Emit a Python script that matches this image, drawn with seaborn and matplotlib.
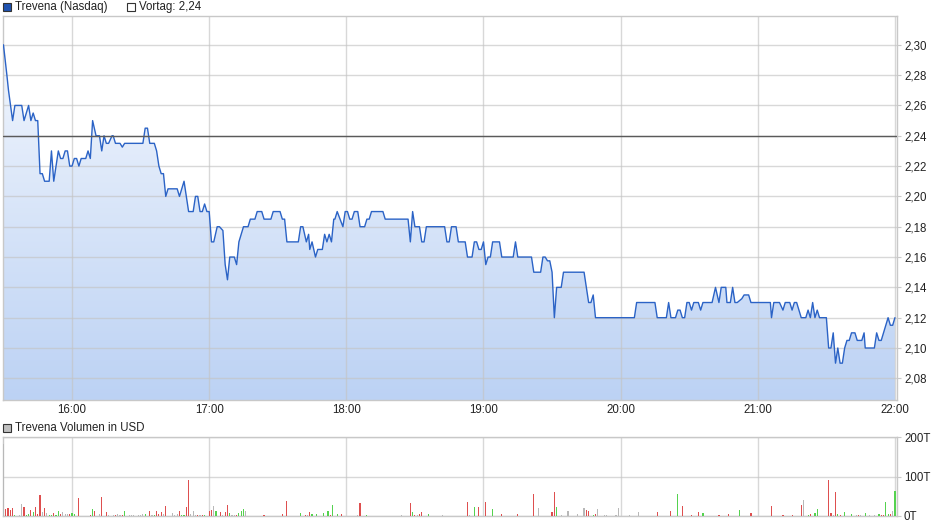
import numpy as np
import pandas as pd
import matplotlib
matplotlib.use("Agg")
import matplotlib.pyplot as plt
from matplotlib.patches import Rectangle
from matplotlib.colors import LinearSegmentedColormap
import seaborn as sns

# Trevena (Nasdaq) intraday quotes, time in minutes after 15:30
price_minute = [
    0, 1.5, 2.2, 4, 5, 8, 9, 11, 12, 13, 14, 15, 16, 17, 18, 20, 21, 22, 23, 24,
    25, 26, 27, 28, 29, 30, 31, 32, 33, 34, 36, 37, 38, 39, 40.5, 42, 43, 44, 45, 46,
    47.5, 48, 49, 51, 52, 53, 61, 62, 63, 64, 66, 67, 68, 69, 70, 71, 72, 76, 77, 79,
    81, 83, 84, 85, 86, 87, 88, 89, 90, 91, 92, 93.5, 94.5, 96, 97, 98, 99, 101, 102, 103,
    105, 107, 108, 110, 111, 113, 114, 117, 118, 121, 122, 123, 124, 129, 130, 131, 132.5, 133.5, 134, 135,
    136.5, 137.5, 139.5, 140.5, 141.5, 142.5, 143.5, 144.5, 145, 146, 148.5, 149.5, 150.5, 151.5, 152.5, 153.5, 155, 156, 158, 159,
    160, 161, 166, 167, 177, 178, 179, 180, 182, 183, 184, 185, 193, 194, 195, 196, 198, 199, 202, 203,
    205, 206, 207, 208, 209, 210, 211, 212, 213, 214, 217, 218, 223, 224, 225, 231, 232, 235, 236, 237,
    238, 239, 240, 241, 242, 244, 245, 254, 255, 256, 257, 258, 259, 276, 277, 285, 286, 290, 291, 292,
    294, 295, 296, 297, 298, 299, 300, 301, 302, 304, 305, 306, 310, 311.5, 313, 314, 316, 316.5, 318, 319,
    320, 321, 323, 324, 326, 327, 335.5, 336, 337, 339.5, 341, 342, 344, 345, 346, 347, 349, 351, 352, 353,
    354, 355, 356, 357, 360, 361, 362, 363, 364, 365, 366, 367, 368, 369, 370, 371, 372.5, 373.5, 375.5, 376.5,
    377, 381, 382, 383, 384, 385, 387, 388, 389, 390,
]
price_value = [
    2.30, 2.28, 2.27, 2.25, 2.26, 2.26, 2.25, 2.26, 2.25, 2.255, 2.25, 2.25, 2.215, 2.215, 2.21, 2.21, 2.23, 2.21, 2.22, 2.23,
    2.225, 2.225, 2.23, 2.23, 2.22, 2.22, 2.225, 2.225, 2.22, 2.225, 2.225, 2.23, 2.225, 2.25, 2.24, 2.24, 2.23, 2.24, 2.235, 2.235,
    2.24, 2.24, 2.235, 2.235, 2.2325, 2.235, 2.235, 2.245, 2.245, 2.235, 2.235, 2.23, 2.22, 2.215, 2.215, 2.20, 2.205, 2.205, 2.20, 2.21,
    2.19, 2.19, 2.20, 2.20, 2.19, 2.19, 2.195, 2.19, 2.19, 2.17, 2.17, 2.18, 2.18, 2.1775, 2.155, 2.145, 2.16, 2.16, 2.155, 2.17,
    2.18, 2.18, 2.185, 2.185, 2.19, 2.19, 2.185, 2.185, 2.19, 2.19, 2.185, 2.185, 2.17, 2.17, 2.18, 2.18, 2.17, 2.175, 2.165, 2.17,
    2.16, 2.165, 2.165, 2.175, 2.17, 2.175, 2.17, 2.185, 2.185, 2.19, 2.18, 2.19, 2.19, 2.185, 2.185, 2.19, 2.19, 2.18, 2.18, 2.185,
    2.185, 2.19, 2.19, 2.185, 2.185, 2.17, 2.19, 2.18, 2.18, 2.17, 2.17, 2.18, 2.18, 2.17, 2.17, 2.18, 2.18, 2.17, 2.17, 2.16,
    2.16, 2.17, 2.17, 2.165, 2.165, 2.17, 2.155, 2.16, 2.16, 2.17, 2.17, 2.16, 2.16, 2.17, 2.16, 2.16, 2.15, 2.15, 2.16, 2.16,
    2.1575, 2.1575, 2.15, 2.12, 2.14, 2.14, 2.15, 2.15, 2.14, 2.13, 2.13, 2.135, 2.12, 2.12, 2.13, 2.13, 2.12, 2.12, 2.13, 2.12,
    2.12, 2.125, 2.125, 2.12, 2.12, 2.13, 2.13, 2.125, 2.13, 2.13, 2.125, 2.13, 2.13, 2.14, 2.13, 2.14, 2.14, 2.13, 2.13, 2.14,
    2.13, 2.13, 2.1325, 2.135, 2.135, 2.13, 2.13, 2.12, 2.13, 2.13, 2.125, 2.13, 2.13, 2.125, 2.13, 2.13, 2.12, 2.12, 2.125, 2.12,
    2.13, 2.12, 2.125, 2.12, 2.12, 2.10, 2.10, 2.11, 2.09, 2.10, 2.09, 2.09, 2.10, 2.105, 2.105, 2.11, 2.11, 2.105, 2.105, 2.11,
    2.10, 2.10, 2.11, 2.105, 2.105, 2.11, 2.12, 2.115, 2.115, 2.12,
]
prev_close = 2.24

# Per-minute traded volume in thousand USD; direction: u = up tick, d = down tick, n = unchanged
vol_minute = [
    0, 1, 2, 3, 4, 5, 7, 8, 9, 10, 11, 12, 13, 14, 15, 16, 17, 18, 19, 20,
    21, 22, 23, 24, 25, 26, 27, 28, 29, 30, 31, 33, 34, 35, 36, 37, 38, 39, 40, 42,
    43, 44, 45, 46, 48, 49, 50, 51, 52, 53, 55, 56, 57, 59, 60, 61, 62, 64, 65, 66,
    67, 68, 69, 70, 71, 72, 73, 74, 75, 76, 77, 78, 79, 80, 81, 82, 83, 84, 85, 86,
    87, 88, 89, 90, 91, 92, 93, 95, 96, 97, 98, 99, 100, 101, 102, 103, 104, 105, 106, 108,
    114, 118, 119, 122, 124, 130, 132, 133, 134, 135, 136, 137, 140, 141, 142, 143, 144, 145, 146, 147,
    148, 149, 151, 153, 155, 156, 159, 161, 167, 170, 172, 174, 175, 177, 178, 179, 180, 181, 182, 183,
    186, 190, 192, 194, 196, 199, 203, 204, 206, 208, 209, 211, 212, 214, 218, 224, 225, 232, 234, 236,
    238, 240, 241, 242, 244, 245, 247, 251, 254, 255, 256, 258, 259, 260, 263, 264, 265, 266, 268, 269,
    274, 277, 278, 280, 286, 289, 292, 295, 297, 298, 299, 301, 302, 304, 305, 306, 312, 313, 314, 317,
    319, 320, 322, 324, 327, 333, 336, 338, 341, 342, 345, 346, 348, 349, 350, 351, 352, 353, 354, 355,
    356, 357, 358, 359, 361, 362, 363, 364, 365, 366, 368, 369, 371, 373, 374, 375, 377, 379, 380, 381,
    383, 384, 385, 386, 387, 388, 389, 390,
]
vol_thousand = [
    182, 18, 19, 15, 19, 3, 1.5, 30, 23, 2, 5, 15, 10, 23, 5, 53, 10, 20, 8, 1.5,
    3, 8, 3, 13, 5, 10, 5, 5, 5, 8, 5, 46, 1, 1, 1, 1, 2, 18, 13, 5,
    48, 1, 10, 2, 2, 2, 5, 2, 2, 13, 2, 2, 2, 2, 3, 5, 5, 13, 2, 2,
    13, 5, 10, 5, 25, 1, 1, 8, 2, 5, 13, 2, 2, 23, 92, 5, 13, 2, 2, 2,
    2, 2, 1, 13, 15, 25, 13, 10, 2, 10, 28, 8, 2, 2, 2, 8, 13, 18, 13, 1,
    3, 1, 1, 5, 38, 8, 2, 2, 10, 5, 1, 5, 8, 1, 13, 2, 28, 1, 5, 1,
    5, 1, 1, 1, 2, 33, 3, 1, 1, 1, 1, 3, 1, 1, 33, 10, 2, 2, 5, 10,
    5, 1, 2, 1, 1, 1, 36, 2, 23, 23, 1, 36, 1, 18, 5, 1, 5, 56, 20, 1,
    1, 10, 61, 23, 2, 1, 13, 5, 20, 15, 13, 2, 5, 18, 2, 2, 1, 1, 2, 20,
    2, 1, 10, 1, 10, 1, 13, 56, 25, 1, 1, 2, 1, 10, 1, 8, 1, 2, 1, 5,
    1, 1, 15, 1, 8, 1, 25, 1, 2, 1, 2, 1, 1, 28, 41, 1, 2, 5, 1, 8,
    18, 1, 1, 1, 92, 8, 2, 61, 5, 2, 10, 1, 5, 2, 2, 2, 8, 2, 1, 2,
    5, 2, 2, 36, 5, 5, 13, 63,
]
vol_dir = [
    "n", "d", "d", "d", "d", "u", "n", "n", "d", "u", "u", "d", "u", "d", "d", "d", "n", "d", "n", "u",
    "u", "d", "u", "u", "d", "n", "n", "n", "d", "u", "u", "d", "n", "n", "n", "n", "d", "u", "d", "n",
    "d", "n", "d", "n", "n", "d", "n", "n", "d", "u", "n", "n", "n", "n", "n", "n", "u", "d", "n", "u",
    "d", "d", "d", "n", "d", "u", "u", "n", "n", "n", "d", "u", "u", "d", "d", "n", "n", "n", "d", "n",
    "d", "u", "n", "d", "d", "n", "u", "d", "n", "d", "d", "u", "n", "n", "d", "u", "u", "u", "n", "u",
    "d", "u", "u", "d", "d", "u", "d", "n", "d", "u", "d", "u", "u", "d", "u", "d", "u", "n", "u", "d",
    "d", "u", "d", "n", "n", "d", "u", "u", "d", "n", "n", "n", "n", "n", "d", "u", "d", "n", "d", "d",
    "u", "n", "n", "d", "n", "d", "d", "n", "u", "d", "n", "d", "n", "u", "d", "u", "d", "d", "n", "u",
    "d", "d", "d", "u", "n", "u", "n", "n", "n", "d", "d", "u", "d", "n", "n", "n", "d", "n", "n", "n",
    "n", "u", "n", "n", "d", "n", "d", "u", "d", "u", "u", "d", "u", "d", "d", "u", "u", "d", "n", "d",
    "u", "d", "u", "u", "d", "n", "d", "n", "d", "u", "d", "n", "u", "d", "n", "n", "u", "d", "n", "u",
    "u", "n", "n", "n", "d", "d", "n", "d", "u", "d", "u", "n", "u", "n", "d", "n", "u", "n", "n", "n",
    "u", "d", "d", "u", "u", "d", "n", "u",
]

hour_ticks = [30, 90, 150, 210, 270, 330, 390]
hour_labels = ["16:00", "17:00", "18:00", "19:00", "20:00", "21:00", "22:00"]
price_ticks = [2.08, 2.10, 2.12, 2.14, 2.16, 2.18, 2.20, 2.22, 2.24, 2.26, 2.28, 2.30]
vol_ticks = [0, 100, 200]
vol_tick_labels = ["0T", "100T", "200T"]

sns.set_style("white")
plt.rcParams["font.family"] = ["Liberation Sans", "DejaVu Sans"]

LINE = "#2b63c6"
FRAME = "#c8c8c8"
TXT = "#222222"
dir_colors = {"u": "#55d24f", "d": "#de4f4f", "n": "#b8b8b8"}

W, H = 940, 526
fig = plt.figure(figsize=(W / 100, H / 100), dpi=100)


def box(left, top, right, bottom):
    return [left / W, 1 - bottom / H, (right - left) / W, (bottom - top) / H]


XMIN, XMAX = -0.2, 390.9
YMIN, YMAX = 2.0657, 2.319

# ---- price panel ----
ax = fig.add_axes(box(3, 16, 897, 400))
df = pd.DataFrame({"minute": price_minute, "price": price_value})

poly = ax.fill_between(df["minute"], df["price"], YMIN, facecolor="none", linewidth=0)
grad = np.linspace(0, 1, 256).reshape(-1, 1)
fill_cmap = LinearSegmentedColormap.from_list("fill", ["#f6f9fe", "#bcd2f4"])
im = ax.imshow(grad, aspect="auto", cmap=fill_cmap, origin="upper",
               extent=[XMIN, XMAX, YMIN, YMAX], zorder=1, interpolation="bilinear")
im.set_clip_path(poly.get_paths()[0], transform=ax.transData)

sns.lineplot(data=df, x="minute", y="price", ax=ax, color=LINE, linewidth=1.0,
             estimator=None, sort=False, zorder=3)
ax.axhline(prev_close, color="#5a5a5a", linewidth=1.0, zorder=4)

ax.set_xlim(XMIN, XMAX)
ax.set_ylim(YMIN, YMAX)
ax.set_xticks(hour_ticks)
ax.set_xticklabels(hour_labels)
ax.set_yticks(price_ticks)
ax.set_yticklabels([f"{v:.2f}".replace(".", ",") for v in price_ticks])
ax.yaxis.tick_right()
ax.set_axisbelow("line")
ax.grid(True, color="#c4c4c4", alpha=0.65, linewidth=1.0)
ax.tick_params(axis="y", length=3, color=FRAME, pad=2, labelsize=8.3, labelcolor=TXT)
ax.tick_params(axis="x", length=0, pad=3, labelsize=8.3, labelcolor=TXT)
ax.set_xlabel("")
ax.set_ylabel("")
for s in ax.spines.values():
    s.set_color(FRAME)
    s.set_linewidth(1.0)

# ---- volume panel ----
axv = fig.add_axes(box(3, 437, 897, 516))
axv.bar(vol_minute, vol_thousand, width=0.5, linewidth=0, antialiased=False,
        color=[dir_colors[d] for d in vol_dir], zorder=3)
axv.set_xlim(XMIN, XMAX)
axv.set_ylim(0, 200)
axv.set_xticks(hour_ticks)
axv.set_xticklabels([])
axv.set_yticks(vol_ticks)
axv.set_yticklabels(vol_tick_labels)
axv.yaxis.tick_right()
axv.set_axisbelow("line")
axv.grid(True, color="#c4c4c4", alpha=0.65, linewidth=1.0)
axv.tick_params(axis="y", length=3, color=FRAME, pad=2, labelsize=8.3, labelcolor=TXT)
axv.tick_params(axis="x", length=0)
for s in axv.spines.values():
    s.set_color(FRAME)
    s.set_linewidth(1.0)


# ---- header legends ----
def legend_item(x, y, face, label):
    fig.patches.append(Rectangle((x / W, 1 - (y + 4) / H), 8 / W, 8 / H,
                                 transform=fig.transFigure, facecolor=face,
                                 edgecolor="#333333", linewidth=0.8))
    fig.text((x + 12) / W, 1 - y / H, label, ha="left", va="center",
             fontsize=8.3, color=TXT)


legend_item(3, 7, "#1f52b0", "Trevena (Nasdaq)")
legend_item(127, 7, "#ffffff", "Vortag: " + f"{prev_close:.2f}".replace(".", ","))
legend_item(3, 428, "#c0c0c0", "Trevena Volumen in USD")

fig.savefig("out.png", dpi=100)
